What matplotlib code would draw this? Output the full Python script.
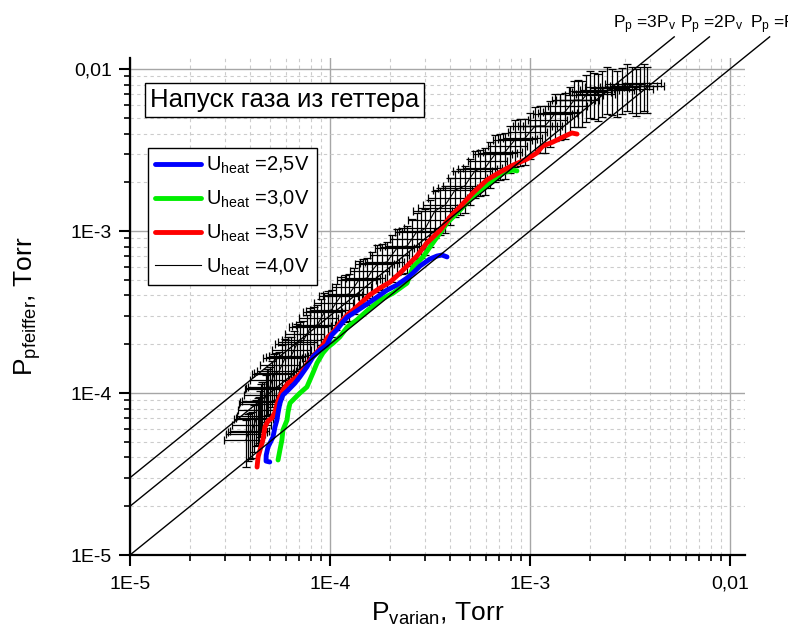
import matplotlib
matplotlib.use('Agg')
import matplotlib.pyplot as plt
import numpy as np
from matplotlib.ticker import LogLocator, NullFormatter

plt.rcParams['font.family'] = ['Liberation Sans', 'DejaVu Sans']
plt.rcParams['mathtext.fontset'] = 'custom'
plt.rcParams['mathtext.rm'] = 'Liberation Sans'
plt.rcParams['mathtext.it'] = 'Liberation Sans'
plt.rcParams['mathtext.default'] = 'regular'

# ---------------- data (Torr) ----------------
# U_heat = 2,5 V
pv_25 = [5.0e-5, 4.79e-5, 4.8e-5, 4.90e-5, 5.19e-5, 5.31e-5, 5.43e-5, 5.50e-5, 5.62e-5, 5.82e-5,
         6.17e-5, 6.68e-5, 7.08e-5, 7.67e-5, 8.22e-5, 8.91e-5, 9.66e-5, 1.02e-4, 1.08e-4, 1.16e-4,
         1.22e-4, 1.36e-4, 1.53e-4, 1.72e-4, 1.93e-4, 2.16e-4, 2.43e-4, 2.60e-4, 2.82e-4, 3.16e-4,
         3.43e-4, 3.63e-4, 3.85e-4]
pp_25 = [3.75e-5, 3.80e-5, 4.14e-5, 4.64e-5, 5.35e-5, 6.17e-5, 6.81e-5, 7.53e-5, 8.67e-5, 9.72e-5,
         1.04e-4, 1.15e-4, 1.26e-4, 1.45e-4, 1.67e-4, 1.84e-4, 1.98e-4, 2.28e-4, 2.45e-4, 2.74e-4,
         2.94e-4, 3.21e-4, 3.54e-4, 3.91e-4, 4.32e-4, 4.64e-4, 5.13e-4, 5.50e-4, 6.08e-4, 6.72e-4,
         7.01e-4, 7.11e-4, 6.92e-4]

# U_heat = 3,0 V
pv_30 = [5.50e-5, 5.62e-5, 5.75e-5, 5.82e-5, 6.10e-5, 6.17e-5, 6.31e-5, 6.68e-5, 7.08e-5, 7.67e-5,
         8.22e-5, 8.61e-5, 9.23e-5, 9.77e-5, 1.04e-4, 1.12e-4, 1.22e-4, 1.36e-4, 1.53e-4, 1.78e-4,
         2.07e-4, 2.43e-4, 2.60e-4, 2.92e-4, 3.16e-4, 3.55e-4, 3.85e-4, 4.32e-4, 4.84e-4, 5.43e-4,
         6.31e-4, 7.33e-4, 8.22e-4, 8.61e-4]
pp_30 = [3.86e-5, 4.45e-5, 5.13e-5, 5.91e-5, 6.81e-5, 7.63e-5, 8.67e-5, 9.31e-5, 1.00e-4, 1.09e-4,
         1.33e-4, 1.53e-4, 1.77e-4, 1.92e-4, 2.04e-4, 2.22e-4, 2.55e-4, 2.82e-4, 3.21e-4, 3.75e-4,
         4.14e-4, 4.77e-4, 6.00e-4, 6.92e-4, 7.96e-4, 9.72e-4, 1.12e-3, 1.29e-3, 1.49e-3, 1.72e-3,
         1.98e-3, 2.28e-3, 2.38e-3, 2.35e-3]

# U_heat = 3,5 V
pv_35 = [4.32e-5, 4.37e-5, 4.47e-5, 4.62e-5, 4.73e-5, 4.90e-5, 5.13e-5, 5.31e-5, 5.43e-5, 5.62e-5,
         5.82e-5, 6.17e-5, 6.61e-5, 7.08e-5, 7.50e-5, 7.94e-5, 8.61e-5, 9.23e-5, 9.77e-5, 1.04e-4,
         1.12e-4, 1.22e-4, 1.36e-4, 1.58e-4, 1.78e-4, 2.00e-4, 2.24e-4, 2.51e-4, 2.72e-4, 3.05e-4,
         3.55e-4, 3.98e-4, 4.47e-4, 5.19e-4, 6.10e-4, 7.08e-4, 8.22e-4, 9.66e-4, 1.08e-3, 1.16e-3,
         1.30e-3, 1.46e-3, 1.62e-3, 1.72e-3]
pp_35 = [3.49e-5, 4.03e-5, 4.45e-5, 5.13e-5, 6.17e-5, 6.72e-5, 7.01e-5, 7.63e-5, 8.55e-5, 9.58e-5,
         1.04e-4, 1.15e-4, 1.22e-4, 1.31e-4, 1.45e-4, 1.60e-4, 1.79e-4, 1.98e-4, 2.22e-4, 2.38e-4,
         2.70e-4, 3.03e-4, 3.40e-4, 4.03e-4, 4.45e-4, 4.84e-4, 5.50e-4, 6.34e-4, 7.01e-4, 8.43e-4,
         1.01e-3, 1.22e-3, 1.41e-3, 1.72e-3, 2.07e-3, 2.31e-3, 2.55e-3, 2.78e-3, 3.03e-3, 3.35e-3,
         3.54e-3, 3.80e-3, 4.03e-3, 3.97e-3]

# U_heat = 4,0 V (with error bars)
pv_40 = [3.80e-5, 3.89e-5, 3.98e-5, 4.07e-5, 4.17e-5, 4.27e-5, 4.37e-5, 4.42e-5, 4.47e-5, 4.52e-5,
         4.57e-5, 4.68e-5, 4.79e-5, 4.84e-5, 4.90e-5, 5.01e-5, 5.13e-5, 5.25e-5, 5.37e-5, 5.56e-5,
         5.75e-5, 5.96e-5, 6.17e-5, 6.39e-5, 6.61e-5, 6.84e-5, 7.08e-5, 7.37e-5, 7.67e-5, 7.99e-5,
         8.32e-5, 8.66e-5, 9.02e-5, 9.39e-5, 9.77e-5, 1.02e-4, 1.07e-4, 1.13e-4, 1.19e-4, 1.25e-4,
         1.32e-4, 1.39e-4, 1.46e-4, 1.54e-4, 1.62e-4, 1.72e-4, 1.82e-4, 1.93e-4, 2.04e-4, 2.16e-4,
         2.29e-4, 2.43e-4, 2.57e-4, 2.71e-4, 2.85e-4, 3.00e-4, 3.16e-4, 3.35e-4, 3.55e-4, 3.76e-4,
         3.98e-4, 4.22e-4, 4.47e-4, 4.73e-4, 5.01e-4, 5.31e-4, 5.62e-4, 5.96e-4, 6.31e-4, 6.68e-4,
         7.08e-4, 7.50e-4, 7.94e-4, 8.41e-4, 8.91e-4, 9.44e-4, 1.00e-3, 1.06e-3, 1.12e-3, 1.19e-3,
         1.26e-3, 1.33e-3, 1.41e-3, 1.49e-3, 1.58e-3, 1.66e-3, 1.74e-3, 1.82e-3, 1.91e-3, 2.00e-3,
         2.09e-3, 2.19e-3, 2.29e-3, 2.43e-3, 2.57e-3, 2.72e-3, 2.88e-3, 3.05e-3, 3.24e-3, 3.39e-3,
         3.55e-3, 3.70e-3, 3.85e-3]
pp_40 = [5.13e-5, 5.60e-5, 5.74e-5, 5.80e-5, 6.35e-5, 6.90e-5, 7.01e-5, 7.20e-5, 7.85e-5, 8.60e-5,
         8.80e-5, 8.90e-5, 9.72e-5, 1.06e-4, 1.07e-4, 1.09e-4, 1.20e-4, 1.31e-4, 1.33e-4, 1.36e-4,
         1.49e-4, 1.64e-4, 1.67e-4, 1.69e-4, 1.84e-4, 2.02e-4, 2.07e-4, 2.11e-4, 2.31e-4, 2.54e-4,
         2.59e-4, 2.64e-4, 2.90e-4, 3.16e-4, 3.21e-4, 3.27e-4, 3.59e-4, 3.95e-4, 4.03e-4, 4.10e-4,
         4.51e-4, 4.96e-4, 5.06e-4, 5.15e-4, 5.66e-4, 6.22e-4, 6.34e-4, 6.45e-4, 7.11e-4, 7.82e-4,
         7.96e-4, 8.10e-4, 8.93e-4, 9.85e-4, 1.00e-3, 1.04e-3, 1.17e-3, 1.33e-3, 1.39e-3, 1.44e-3,
         1.60e-3, 1.79e-3, 1.84e-3, 1.90e-3, 2.12e-3, 2.35e-3, 2.41e-3, 2.45e-3, 2.70e-3, 2.97e-3,
         3.03e-3, 3.07e-3, 3.35e-3, 3.66e-3, 3.70e-3, 3.74e-3, 4.08e-3, 4.43e-3, 4.45e-3, 4.46e-3,
         4.84e-3, 5.29e-3, 5.35e-3, 5.41e-3, 5.91e-3, 6.42e-3, 6.44e-3, 6.42e-3, 6.92e-3, 7.34e-3,
         7.21e-3, 7.05e-3, 7.41e-3, 7.80e-3, 7.63e-3, 7.40e-3, 7.74e-3, 8.10e-3, 7.85e-3, 7.55e-3,
         7.85e-3, 8.15e-3, 7.85e-3]
pv_rel_err = 0.22
pp_rel_err = 0.32

series_labels = [r'U$_{heat}$ =2,5V', r'U$_{heat}$ =3,0V', r'U$_{heat}$ =3,5V', r'U$_{heat}$ =4,0V']
ratio_factors = [1, 2, 3]
ratio_labels = [r'P$_p$ =P$_v$', r'P$_p$ =2P$_v$', r'P$_p$ =3P$_v$']
tick_values = [1e-5, 1e-4, 1e-3, 1e-2]
tick_labels = ['1E-5', '1E-4', '1E-3', '0,01']
title_text = 'Напуск газа из геттера'

# ---------------- figure ----------------
fig = plt.figure(figsize=(7.88, 6.39), dpi=100)
ax = fig.add_axes([130 / 788, 84 / 639, 615 / 788, 497 / 639])
ax.set_xscale('log')
ax.set_yscale('log')

for axis in (ax.xaxis, ax.yaxis):
    axis.set_minor_locator(LogLocator(base=10, subs=np.arange(2, 10), numticks=20))
    axis.set_minor_formatter(NullFormatter())
ax.set_xticks(tick_values)
ax.set_xticklabels(tick_labels)
ax.set_yticks(tick_values)
ax.set_yticklabels(tick_labels)
ax.set_xlim(1e-5, 0.0119)
ax.set_ylim(1e-5, 0.0117)

ax.grid(which='major', color='#a6a6a6', lw=1.0, ls='-')
ax.grid(which='minor', color='#cccccc', lw=0.8, ls=(0, (3, 3)))
ax.set_axisbelow(True)

for s in ('top', 'right'):
    ax.spines[s].set_visible(False)
for s in ('left', 'bottom'):
    ax.spines[s].set_linewidth(1.6)

ax.tick_params(which='major', direction='out', length=8, width=1.5, labelsize=14)
ax.tick_params(which='minor', direction='out', length=4.5, width=1.2)
ax.tick_params(axis='x', which='major', pad=7)
ax.tick_params(axis='y', which='major', pad=5)

# black series with error bars
pv40 = np.array(pv_40)
pp40 = np.array(pp_40)
ax.errorbar(pv40, pp40, xerr=pv_rel_err * pv40, yerr=pp_rel_err * pp40, fmt='none',
            ecolor='black', elinewidth=0.9, capsize=3, capthick=0.9, zorder=2)
l40, = ax.plot(pv40, pp40, color='black', lw=0.8, zorder=2)

l25, = ax.plot(pv_25, pp_25, color='#0000ff', lw=3.5, solid_capstyle='round', zorder=4)
l30, = ax.plot(pv_30, pp_30, color='#00ee00', lw=3.5, solid_capstyle='round', zorder=3)
l35, = ax.plot(pv_35, pp_35, color='#ff0000', lw=3.5, solid_capstyle='round', zorder=3.5)

# reference lines Pp = k * Pv
y_end = 0.0158
for k in ratio_factors:
    xs = np.array([1e-5, y_end / k])
    ax.plot(xs, k * xs, color='black', lw=1.0, clip_on=False, zorder=5)

label_x = {1: 1.008, 2: 0.894, 3: 0.785}
for k, lab in zip(ratio_factors, ratio_labels):
    ax.text(label_x[k], 1.060, lab, transform=ax.transAxes, fontsize=12.5,
            ha='left', va='baseline', clip_on=False)

ax.text(0.0325, 0.9155, title_text, transform=ax.transAxes, fontsize=18.5,
        ha='left', va='center', zorder=6,
        bbox=dict(boxstyle='square,pad=0.2', fc='white', ec='black', lw=1.0))

leg = ax.legend([l25, l30, l35, l40], series_labels, loc='upper left',
                bbox_to_anchor=(0.0293, 0.819), borderaxespad=0, fontsize=14.5,
                frameon=True, fancybox=False, edgecolor='black', framealpha=1,
                handlelength=2.3, handletextpad=0.25, labelspacing=0.62, borderpad=0.35)
leg.get_frame().set_linewidth(1.0)
leg.set_zorder(6)

ax.set_xlabel(r'P$_{varian}$, Torr', fontsize=19, labelpad=6)
ax.set_ylabel(r'P$_{pfeiffer}$, Torr', fontsize=19, labelpad=20)

fig.savefig('out.png', dpi=100)
